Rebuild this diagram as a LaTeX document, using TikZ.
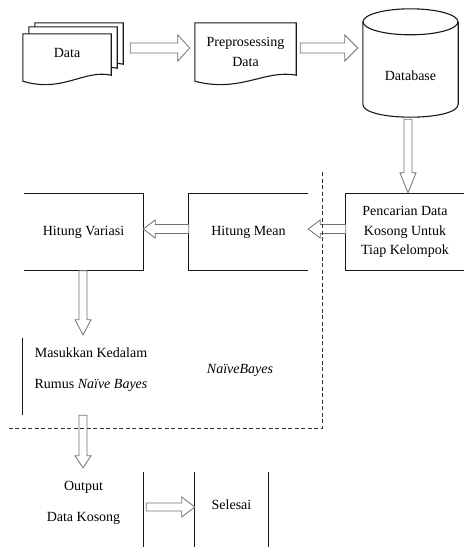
\documentclass[tikz,border=0pt]{standalone}
\usepackage{fontspec}
\setmainfont{Liberation Serif}
\usetikzlibrary{calc}

% hollow block arrow: start, tip, shaft half width, head half width, head length
\newcommand{\flowarrow}[5]{%
  \draw[flow] ($(#1)!#3!90:(#2)$)
    -- ($(#2)!#5!(#1)!#3!-90:(#1)$) -- ($(#2)!#5!(#1)!#4!-90:(#1)$)
    -- (#2)
    -- ($(#2)!#5!(#1)!#4!90:(#1)$) -- ($(#2)!#5!(#1)!#3!90:(#1)$)
    -- ($(#1)!#3!-90:(#2)$) -- cycle;}

% flowchart "document" outline around a node, wavy bottom
\newcommand{\docoutline}[2][]{%
  \draw[edge,#1] (#2.south west) -- (#2.north west) -- (#2.north east) -- ($(#2.south east)+(0,-6)$)
    .. controls ($(#2.south east)!0.31!(#2.south west)+(0,-12)$) and ($(#2.south east)!0.55!(#2.south west)+(0,12)$)
    .. (#2.south west) -- cycle;}

\begin{document}
\begin{tikzpicture}[x=1pt, y=-1pt, font=\fontsize{14}{16.8}\selectfont,
    edge/.style={draw=black!90, line width=1.1pt},
    flow/.style={draw=black!55, line width=0.8pt, fill=white},
    fence/.style={draw=black!80, line width=1pt, dash pattern=on 4pt off 2.5pt},
    box/.style={inner sep=0pt, align=center},
    docbox/.style={box, minimum width=88pt, minimum height=47pt}]

  \path[use as bounding box, fill=white] (0,0) rectangle (464,547);

  % Data: stack of three pages
  \coordinate (datapos) at (67,57.5);
  \node[docbox] (data3) at ($(datapos)+(12,-11)$) {};
  \node[docbox] (data2) at ($(datapos)+(6,-7)$) {};
  \docoutline[fill=white]{data3}
  \docoutline[fill=white]{data2}
  \node[docbox, fill=white, text depth=9pt] (data) at (datapos) {Data};
  \docoutline{data}

  \node[docbox, minimum width=101pt, minimum height=58pt] (prep) at (245.5,52) {Preprosessing\\[3.2pt]Data};
  \docoutline{prep}

  % Database cylinder
  \node[box, minimum width=95pt, minimum height=82pt] (db) at (410.5,76) {Database};
  \draw[edge] ($(db.north west)+(0,-13)$) -- ($(db.south west)+(0,-13)$)
    .. controls ($(db.south west)+(0,4.3)$) and ($(db.south east)+(0,4.3)$) .. ($(db.south east)+(0,-13)$)
    -- ($(db.north east)+(0,-13)$);
  \draw[edge] ($(db.north)+(0,-13)$) ellipse [x radius=47.5pt, y radius=13pt];

  % Middle row
  \node[box, minimum width=118pt, minimum height=77pt] (cari) at (405,232) {Pencarian Data\\[2.5pt]Kosong Untuk\\[2.5pt]Tiap Kelompok};
  \draw[edge] (cari.north east) -- (cari.north west) -- (cari.south west) -- (cari.south east);
  \node[box, minimum width=119pt, minimum height=77pt] (mean) at (248.5,232) {Hitung Mean};
  \draw[edge] (mean.north east) -- (mean.north west) -- (mean.south west) -- (mean.south east);
  \node[box, minimum width=119pt, minimum height=77pt] (var) at (83.5,232) {Hitung Variasi};
  \draw[edge] (var.north west) -- (var.north east) -- (var.south east) -- (var.south west);

  \node[box, minimum width=136pt, minimum height=63pt] (rumus) at (91,369.5) {Masukkan Kedalam\\[14.2pt]Rumus \textit{Naïve Bayes}};
  \draw[edge] (rumus.north west) -- ++(0,77);
  \node[box] (nb) at (240,370) {\textit{NaïveBayes}};

  % Bottom row
  \node[box, minimum width=119pt, minimum height=61pt] (output) at (83.5,502.5) {Output\\[14.2pt]Data Kosong};
  \draw[edge] (output.north east) -- ++(0,75);
  \node[box, minimum width=73pt, minimum height=66pt] (selesai) at (231.5,505) {Selesai};
  \draw[edge] (selesai.north west) -- ++(0,75);
  \draw[edge] (selesai.north east) -- ++(0,75);

  % Arrow ends
  \coordinate (a1s) at ($(data3.east)+(7,1.5)$);
  \coordinate (a1t) at ($(prep.west)+(-5,-4)$);
  \coordinate (a2s) at ($(prep.east)+(4,-4)$);
  \coordinate (a2t) at ($(db.west)+(-5,-28)$);
  \coordinate (a3s) at ($(db.south)+(-2.5,2)$);
  \coordinate (a3t) at ($(cari.north)+(3,-0.5)$);
  \coordinate (a4s) at ($(cari.west)+(0,-3)$);
  \coordinate (a4t) at ($(mean.east)+(0,-3)$);
  \coordinate (a5s) at ($(mean.west)+(0,-3)$);
  \coordinate (a5t) at ($(var.east)+(0,-3)$);
  \coordinate (a6s) at ($(var.south)+(-0.5,0)$);
  \coordinate (a6t) at ($(rumus.north)+(-8,-3)$);
  \coordinate (a7s) at ($(rumus.south)+(-8,14)$);
  \coordinate (a7t) at ($(output.north)+(-0.5,-4)$);
  \coordinate (a8s) at ($(output.east)+(3,4.5)$);
  \coordinate (a8t) at ($(selesai.west)+(0,2)$);

  \flowarrow{a1s}{a1t}{5pt}{13pt}{12pt}
  \flowarrow{a2s}{a2t}{5pt}{13pt}{13pt}
  \flowarrow{a3s}{a3t}{4pt}{8pt}{20pt}
  \flowarrow{a4s}{a4t}{4.5pt}{9pt}{12pt}
  \flowarrow{a5s}{a5t}{4.5pt}{9pt}{12pt}
  \flowarrow{a6s}{a6t}{4pt}{8pt}{15pt}
  \flowarrow{a7s}{a7t}{4pt}{8pt}{12pt}
  \flowarrow{a8s}{a8t}{4pt}{10pt}{13pt}

  % Dashed boundary of the Naive Bayes part
  \coordinate (fenceTop) at (322,172);
  \coordinate (fenceCorner) at (322,428);
  \coordinate (fenceEnd) at (8,428);
  \draw[fence] (fenceTop) -- (fenceCorner) -- (fenceEnd);
\end{tikzpicture}
\end{document}
